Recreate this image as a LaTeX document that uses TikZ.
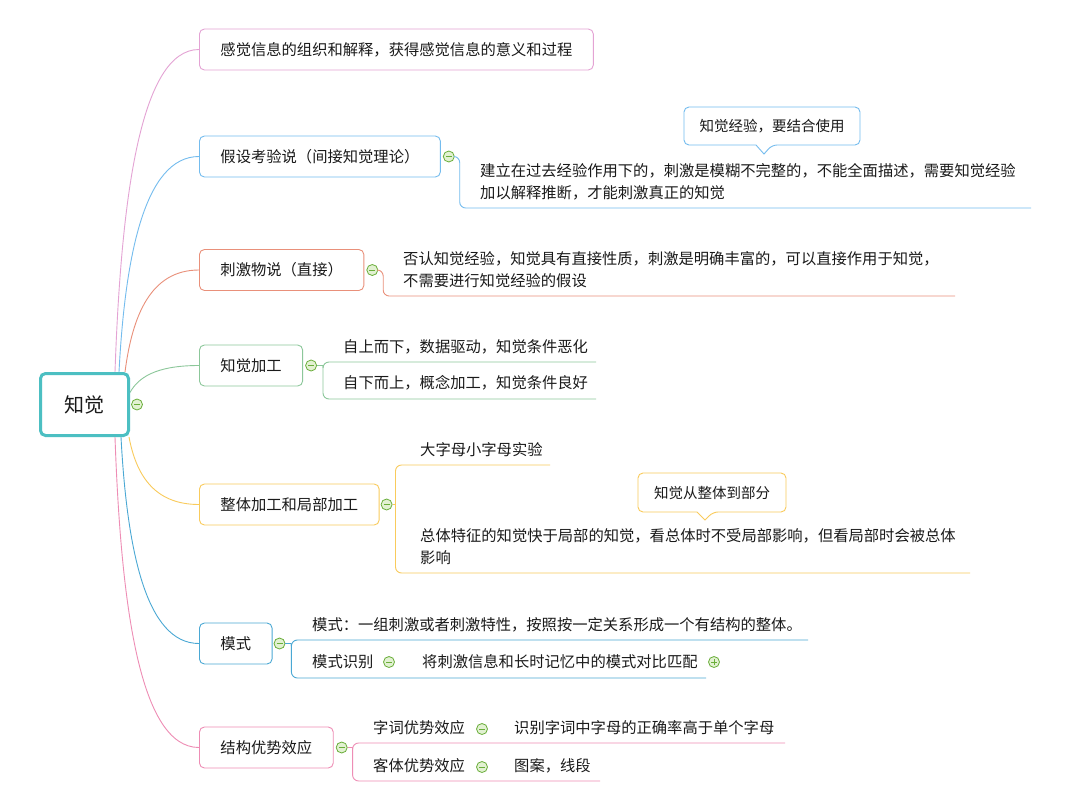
\documentclass[tikz,border=0pt]{standalone}
\usepackage{fontspec}
\setmainfont{Noto Sans CJK SC}
\definecolor{rootc}{HTML}{4CBFC2}
\definecolor{cA}{HTML}{E4A3D4}
\definecolor{cB}{HTML}{74BCEE}
\definecolor{cC}{HTML}{E9907A}
\definecolor{cD}{HTML}{8CC79A}
\definecolor{cE}{HTML}{F9CB5C}
\definecolor{cF}{HTML}{4AA8D4}
\definecolor{cG}{HTML}{EE8DB5}
\definecolor{icg}{HTML}{6AAE3A}
\definecolor{icf}{HTML}{E2F1D2}
\definecolor{ink}{HTML}{1A1A1A}
\pgfdeclarelayer{bg}
\pgfsetlayers{bg,main}
\newcommand\fsz[2]{\fontsize{#1}{#2}\selectfont}
\tikzset{
  rootbox/.style={draw=rootc, line width=3pt, rounded corners=5pt, fill=white,
    minimum width=88pt, minimum height=62pt, inner sep=0pt, text=ink, font=\fsz{20}{24}},
  brbox/.style={line width=0.9pt, rounded corners=5pt, fill=white, anchor=west,
    minimum height=41pt, inner xsep=21pt, inner ysep=0pt, text=ink, font=\fsz{15.3}{22}},
  txt/.style={anchor=west, inner sep=0pt, align=left, text=ink, font=\fsz{15.3}{22}},
  ctxt/.style={inner sep=0pt, text=ink, font=\fsz{14.5}{20}},
  conn/.style={line width=0.9pt},
  ulin/.style={line width=0.9pt, rounded corners=6pt},
  callout/.style={line width=0.9pt, fill=white},
  ico/.style={circle, draw=icg, fill=icf, minimum size=11pt, inner sep=0pt, line width=0.8pt,
    path picture={\draw[icg, line width=1pt] ([xshift=-3pt]path picture bounding box.center) -- ([xshift=3pt]path picture bounding box.center);}},
  icoplus/.style={ico, path picture={\draw[icg, line width=1pt] ([xshift=-3pt]path picture bounding box.center) -- ([xshift=3pt]path picture bounding box.center) ([yshift=-3pt]path picture bounding box.center) -- ([yshift=3pt]path picture bounding box.center);}}
}
\begin{document}
\begin{tikzpicture}[x=1pt,y=-1pt]
\useasboundingbox (0,0) rectangle (1066,809);

% root and branch nodes
\node[rootbox] (root) at (84.5,404.5) {知觉};
\node[brbox, draw=cA] (b1) at (199,49.5) {感觉信息的组织和解释，获得感觉信息的意义和过程};
\node[brbox, draw=cB] (b2) at (199,156.5) {假设考验说（间接知觉理论）};
\node[brbox, draw=cC] (b3) at (199,270) {刺激物说（直接）};
\node[brbox, draw=cD] (b4) at (199,365.5) {知觉加工};
\node[brbox, draw=cE] (b5) at (199,504.5) {整体加工和局部加工};
\node[brbox, draw=cF] (b6) at (199,643.5) {模式};
\node[brbox, draw=cG] (b7) at (199,747.5) {结构优势效应};

% curves from root (behind the nodes)
\begin{pgfonlayer}{bg}
\fill[white] (0,0) rectangle (1066,809);
\draw[conn, cA] ([xshift=-15pt]root.north east) .. controls (121,200) and (140,49.5) .. (b1.west);
\draw[conn, cB] ([xshift=-11pt]root.north east) .. controls (125,258) and (144,156.5) .. (b2.west);
\draw[conn, cC] ([xshift=-5pt]root.north east) .. controls (132.4,315) and (150.9,270) .. (b3.west);
\draw[conn, cD] ([yshift=12pt]root.east) .. controls (138,378) and (155,365.5) .. (b4.west);
\draw[conn, cE] ([xshift=-1pt]root.south east) .. controls (136,474) and (153.5,504.5) .. (b5.west);
\draw[conn, cF] ([xshift=-9pt]root.south east) .. controls (127,550) and (146,643.5) .. (b6.west);
\draw[conn, cG] ([xshift=-15pt]root.south east) .. controls (121,607.5) and (140,747.5) .. (b7.west);
\end{pgfonlayer}

% icons
\node[ico] (i0) at ([xshift=7pt]root.east) {};
\node[ico] (i2) at ([xshift=8pt]b2.east) {};
\node[ico] (i3) at ([xshift=8pt]b3.east) {};
\node[ico] (i4) at ([xshift=8pt]b4.east) {};
\node[ico] (i5) at ([xshift=7pt]b5.east) {};
\node[ico] (i6) at ([xshift=7pt]b6.east) {};
\node[ico] (i7) at ([xshift=8pt]b7.east) {};

% branch 2
\node[txt] (c2) at (480,182) {建立在过去经验作用下的，刺激是模糊不完整的，不能全面描述，需要知觉经验\\加以解释推断，才能刺激真正的知觉};
\coordinate (u2) at (1031,208);
\draw[ulin, cB] (i2.east) -- ++(5,0) |- (u2);
\draw[callout, draw=cB, rounded corners=5pt] (684,107) -- (860,107) -- (860,145) -- (772,145) [sharp corners] -- (764,154) -- (756,145) [rounded corners=5pt] -- (684,145) -- cycle;
\node[ctxt] (k1) at (772,126) {知觉经验，要结合使用};

% branch 3
\node[txt] (c3) at (403,269.5) {否认知觉经验，知觉具有直接性质，刺激是明确丰富的，可以直接作用于知觉，\\不需要进行知觉经验的假设};
\coordinate (u3) at (955,296);
\draw[ulin, cC] (i3.east) -- ++(5,0) |- (u3);

% branch 4
\node[txt] (c4a) at (343,347) {自上而下，数据驱动，知觉条件恶化};
\node[txt] (c4b) at (343,383) {自下而上，概念加工，知觉条件良好};
\coordinate (u4a) at (596,362);
\coordinate (u4b) at (596,399);
\draw[conn, cD] (i4.east) -- ++(6,0) coordinate (j4);
\draw[ulin, cD] (j4) |- (u4a);
\draw[ulin, cD] (j4) |- (u4b);

% branch 5
\node[txt] (c5a) at (420,450) {大字母小字母实验};
\node[txt] (c5b) at (420,547) {总体特征的知觉快于局部的知觉，看总体时不受局部影响，但看局部时会被总体\\影响};
\coordinate (u5a) at (550,465);
\coordinate (u5b) at (970,573);
\draw[conn, cE] (i5.east) -- ++(3,0) coordinate (j5);
\draw[ulin, cE] (j5) |- (u5a);
\draw[ulin, cE] (j5) |- (u5b);
\draw[callout, draw=cE, rounded corners=5pt] (638,473) -- (786,473) -- (786,512) -- (713,512) [sharp corners] -- (705,520) -- (697,512) [rounded corners=5pt] -- (638,512) -- cycle;
\node[ctxt] (k2) at (712,493) {知觉从整体到部分};

% branch 6
\node[txt] (c6a) at (312,625) {模式：一组刺激或者刺激特性，按照按一定关系形成一个有结构的整体。};
\node[txt] (c6b) at (312,662) {模式识别};
\node[ico] (i6b) at (389,662) {};
\node[txt] (c6c) at (422,662) {将刺激信息和长时记忆中的模式对比匹配};
\node[icoplus] (i6c) at (714,662) {};
\coordinate (u6a) at (808,640);
\coordinate (u6b) at (706,678);
\draw[conn, cF] (i6.east) -- ++(6,0) coordinate (j6);
\draw[ulin, cF] (j6) |- (u6a);
\draw[ulin, cF] (j6) |- (u6b);

% branch 7
\node[txt] (c7a) at (373,728) {字词优势效应};
\node[ico] (i7a) at (482,729) {};
\node[txt] (c7c) at (514,728) {识别字词中字母的正确率高于单个字母};
\node[txt] (c7b) at (373,766) {客体优势效应};
\node[ico] (i7b) at (482,767) {};
\node[txt] (c7d) at (514,766) {图案，线段};
\coordinate (u7a) at (785,743);
\coordinate (u7b) at (600,781);
\draw[conn, cG] (i7.east) -- ++(5,0) coordinate (j7);
\draw[ulin, cG] (j7) |- (u7a);
\draw[ulin, cG] (j7) |- (u7b);
\end{tikzpicture}
\end{document}
